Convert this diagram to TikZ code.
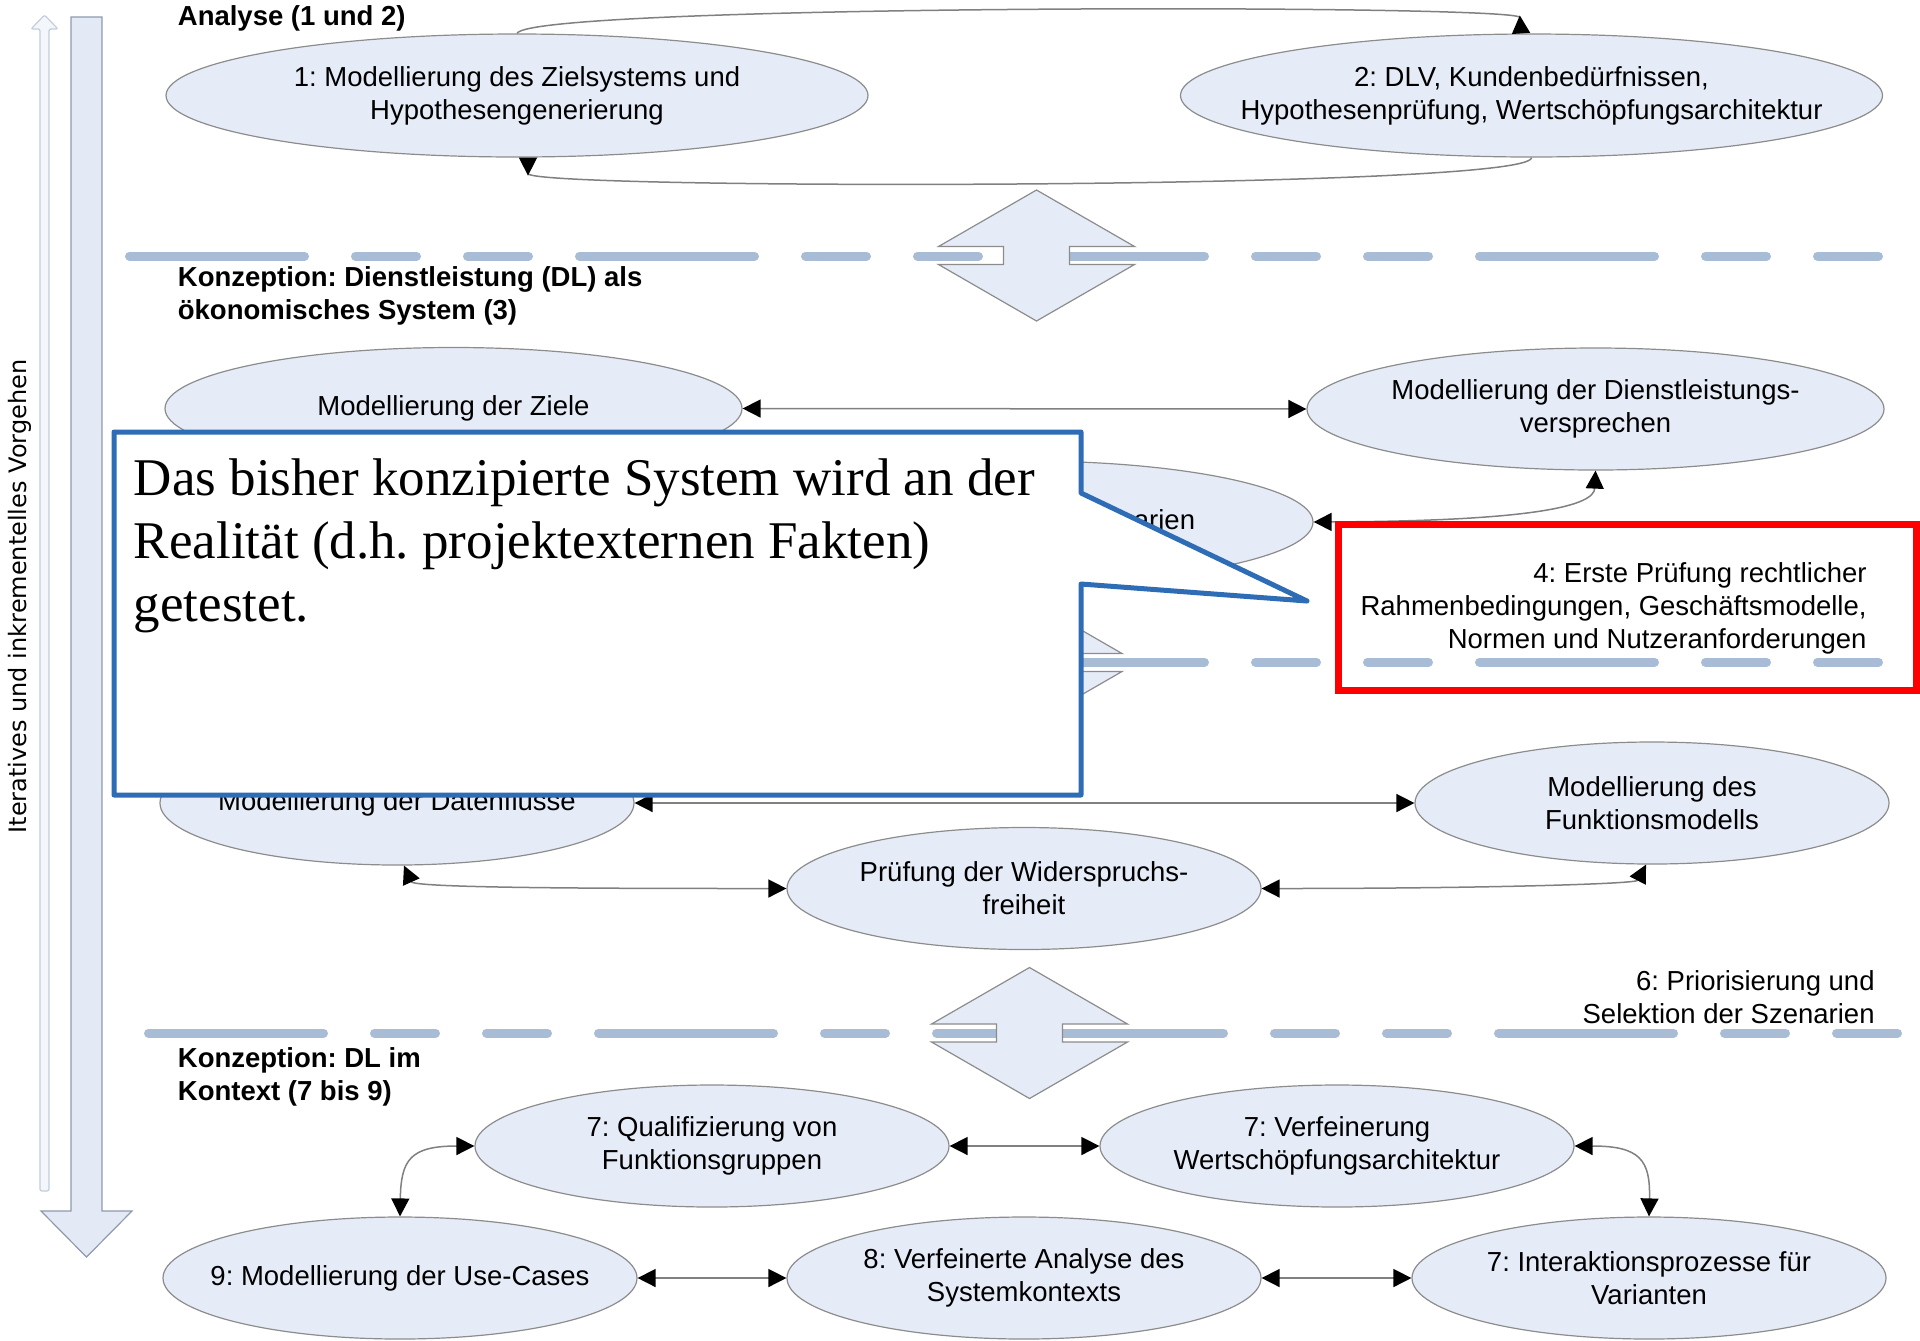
\documentclass[tikz,border=0pt]{standalone}
\usepackage{fontspec}
\setmainfont{Liberation Sans}
\newfontfamily\noteface{Liberation Serif}
\newfontfamily\sideface{DejaVu Sans}
\usetikzlibrary{shapes.geometric,arrows.meta}
\frenchspacing

\definecolor{bubfill}{HTML}{E6ECF7}
\definecolor{bubline}{HTML}{8C8C8C}
\definecolor{dashblue}{HTML}{A9BCD6}
\definecolor{wire}{HTML}{808080}
\definecolor{callblue}{HTML}{2E6DB5}
\definecolor{shaftfill}{HTML}{E4EAF5}
\definecolor{shaftline}{HTML}{8F9AAE}
\definecolor{thinfill}{HTML}{F3F6FB}
\definecolor{thinline}{HTML}{C3CDDC}

\begin{document}
\begin{tikzpicture}[x=0.5pt,y=-0.5pt,
  bub/.style 2 args={ellipse, draw=bubline, line width=0.6pt, fill=bubfill,
    minimum width=#1, minimum height=#2, inner sep=0pt},
  btxt/.style={font=\fontsize{13.75pt}{16.5pt}\selectfont, align=center, inner sep=0pt},
  head/.style={font=\bfseries\fontsize{13.75pt}{16.5pt}\selectfont, align=left, inner sep=0pt, anchor=west},
  lane/.style={draw=dashblue, line width=4.5pt, line cap=round,
    dash pattern=on 87.5pt off 25.5pt on 30.5pt off 25.5pt on 30.5pt off 25.5pt},
  ah/.tip={Triangle[length=9pt,width=9pt,color=black]},
  ahr/.tip={Triangle[length=9pt,width=9pt,color=black,reversed]},
  conn/.style={draw=wire, line width=0.75pt},
  bidir/.pic={
    \path[draw=bubline, line width=0.6pt, fill=bubfill, line join=miter]
      (0,-65.5) -- (98,-9) -- (33,-9) -- (33,9) -- (98,9) -- (0,65.5)
      -- (-98,9) -- (-33,9) -- (-33,-9) -- (-98,-9) -- cycle;
  }
]
\useasboundingbox (0,0) rectangle (1920,1340);

% phase separators
\draw[lane] (129.5,256) -- (1884.5,256);
\draw[lane] (129.5,662) -- (1885.5,662);
\draw[lane] (148.5,1033) -- (1904.5,1033);

% transitions between the phases
\pic at (1036.5,255.5) {bidir};
\pic at (1024,662.5) {bidir};
\pic at (1029.5,1033) {bidir};

% left-hand process arrows
\path[draw=shaftline, line width=0.6pt, fill=shaftfill]
  (71,17) -- (102,17) -- (102,1211) -- (132,1211) -- (86.5,1257)
  -- (41,1211) -- (71,1211) -- cycle;
\path[draw=thinline, line width=0.6pt, fill=thinfill, rounded corners=1pt]
  (44.5,15) -- (58,29) -- (49,29) -- (49,1191) -- (40,1191) -- (40,29)
  -- (31,29) -- cycle;
\node[rotate=90, inner sep=0pt, font=\sideface\fontsize{12pt}{14pt}\selectfont]
  (side) at (20,596.5) {Iteratives und inkrementelles Vorgehen};

% phase headings
\node[head] (h1) at (177.5,18) {Analyse (1 und 2)};
\node[head] (h2) at (177.5,295.5) {Konzeption: Dienstleistung (DL) als\\ökonomisches System (3)};
\node[head] (h3) at (177.5,1076.5) {Konzeption: DL im\\Kontext (7 bis 9)};
\node[btxt, align=right, anchor=east] (h6) at (1875,997.5) {6: Priorisierung und\\Selektion der Szenarien};

% analysis
\node[bub={351pt}{61.5pt}] (e1) at (517,95.5) {};
\node[btxt] (t1) at (e1) {1: Modellierung des Zielsystems und\\Hypothesengenerierung};
\node[bub={351pt}{61.5pt}] (e2) at (1531.5,95.5) {};
\node[btxt] (t2) at (e2) {2: DLV, Kundenbedürfnissen,\\Hypothesenprüfung, Wertschöpfungsarchitektur};

% service as economic system
\node[bub={288.5pt}{61pt}] (e3) at (453.5,408.5) {};
\node[btxt] (t3) at (e3) {Modellierung der Ziele};
\node[bub={288.5pt}{61pt}] (e4) at (1595.5,409) {};
\node[btxt] (t4) at (e4) {Modellierung der Dienstleistungs-\\versprechen};
\node[bub={286pt}{61pt}] (e5) at (1027,522) {};
\node[btxt] (t5) at (e5) {Modellierung der Szenarien};

% functional view
\node[bub={237pt}{62pt}] (e6) at (397,803) {};
\node[btxt] (t6) at (e6) {Modellierung der Datenflüsse};
\node[bub={237pt}{61pt}] (e7) at (1652,803) {};
\node[btxt] (t7) at (e7) {Modellierung des\\Funktionsmodells};
\node[bub={237pt}{61pt}] (e8) at (1024,888.5) {};
\node[btxt] (t8) at (e8) {Prüfung der Widerspruchs-\\freiheit};

% service in context
\node[bub={237pt}{61pt}] (e9) at (712,1146) {};
\node[btxt] (t9) at (e9) {7: Qualifizierung von\\Funktionsgruppen};
\node[bub={237pt}{61pt}] (e10) at (1337,1146) {};
\node[btxt] (t10) at (e10) {7: Verfeinerung\\Wertschöpfungsarchitektur};
\node[bub={237pt}{61pt}] (e11) at (400,1278) {};
\node[btxt] (t11) at (e11) {9: Modellierung der Use-Cases};
\node[bub={237pt}{61pt}] (e12) at (1024,1278) {};
\node[btxt] (t12) at (e12) {8: Verfeinerte Analyse des\\Systemkontexts};
\node[bub={237pt}{61pt}] (e13) at (1649,1278) {};
\node[btxt] (t13) at (e13) {7: Interaktionsprozesse für\\Varianten};

% connectors
\draw[conn, -{ahr}] (e1.north) .. controls (530,4) and (1519,4) .. ([xshift=-5.25pt]e2.north);
\draw[conn, -{ahr}] (e2.south) .. controls (1532,190) and (528,190) .. ([xshift=5.5pt]e1.south);
\draw[conn, {ah}-{ah}] (e3.east) -- (e4.west);
\draw[conn, {ah}-{ah}] (e5.east) .. controls (1540,521) and (1594,505) .. (e4.south);
\draw[conn, {ah}-{ah}] (e6.east) -- (e7.west);
\draw[conn, {ah}-{ah}] ([xshift=3.5pt]e6.south) .. controls (414,888) and (600,888.5) .. (e8.west);
\draw[conn, {ah}-{ah}] (e8.east) .. controls (1480,888.5) and (1636,884) .. ([xshift=-3pt]e7.south);
\draw[conn, {ah}-{ah}] (e9.east) -- (e10.west);
\draw[conn, {ah}-{ah}] (e11.east) -- (e12.west);
\draw[conn, {ah}-{ah}] (e12.east) -- (e13.west);
\draw[conn, {ah}-{ah}] (e9.west) .. controls (410,1146) and (401,1160) .. (e11.north);
\draw[conn, {ah}-{ah}] (e10.east) .. controls (1640,1146) and (1650.5,1160) .. (e13.north);

% highlighted step
\node[draw=red, line width=3.5pt, minimum width=289pt, minimum height=83pt, inner sep=0pt]
  (rb) at (1627,607.5) {};
\node[btxt, align=right, anchor=east] (rbt) at (1867,608.5)
  {4: Erste Prüfung rechtlicher\\Rahmenbedingungen, Geschäftsmodelle,\\Normen und Nutzeranforderungen};

% comment callout
\path[draw=callblue, line width=2.5pt, fill=white, line join=round]
  (114,432) -- (1081,432) -- (1081,493) -- (1307,601) -- (1081,584)
  -- (1081,795) -- (114,795) -- cycle;
\node[anchor=north west, align=left, inner sep=0pt,
  font=\noteface\fontsize{26.5pt}{31.5pt}\selectfont] (note) at (133.5,458)
  {Das bisher konzipierte System wird an der\\Realität (d.h. projektexternen Fakten)\\getestet.};
\end{tikzpicture}
\end{document}
